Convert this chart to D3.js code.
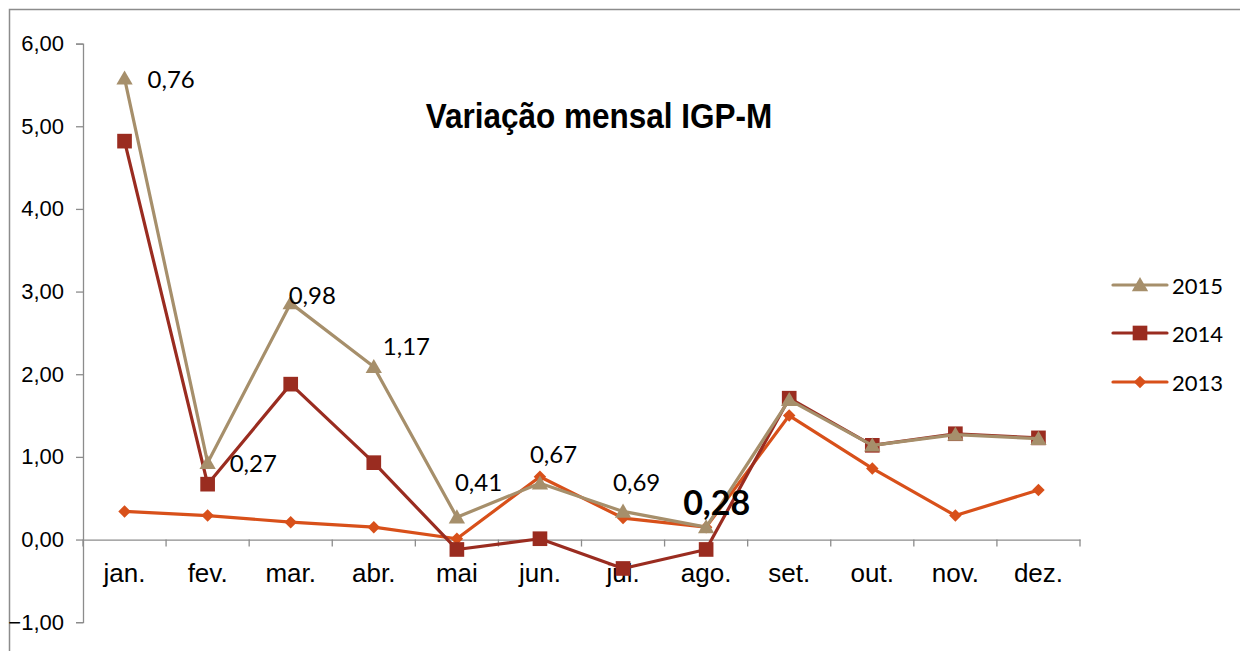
<!DOCTYPE html>
<html>
<head>
<meta charset="utf-8">
<script src="https://cdn.jsdelivr.net/npm/d3@7"></script>
<style>
html,body{margin:0;padding:0;background:#fff;}
svg{display:block;}
</style>
</head>
<body>
<svg id="chart" width="1240" height="651"></svg>
<script>
const months = ["jan.","fev.","mar.","abr.","mai","jun.","jul.","ago.","set.","out.","nov.","dez."];
const s2015 = [5.58, 0.93, 2.86, 2.09, 0.27, 0.68, 0.34, 0.15, 1.69, 1.14, 1.27, 1.22];
const s2014 = [4.82, 0.67, 1.88, 0.93, -0.12, 0.01, -0.35, -0.12, 1.71, 1.14, 1.28, 1.23];
const s2013 = [0.34, 0.29, 0.21, 0.15, 0.01, 0.76, 0.26, 0.15, 1.50, 0.86, 0.29, 0.60];
const yTicks = [-1, 0, 1, 2, 3, 4, 5, 6];
const labelTexts = ["0,76","0,27","0,98","1,17","0,41","0,67","0,69","0,28"];
const seriesNames = ["2015","2014","2013"];

// layout / style (not data)
const labelOffsets = [[23,0],[22,0],[-2,-9],[9,-21],[-2,-36],[-10,-30],[-10,-30],[-23,-26]];
const colors = {"2015":"#A68F6B","2014":"#9A2C20","2013":"#D8501A"};
const ARIAL = "'Liberation Sans', Arial, Helvetica, sans-serif";
const CALIBRI = "Lato, 'Open Sans', sans-serif";

function markerPath(name){
  if (name === "2015") return d3.symbol().type(d3.symbolTriangle).size(115)();
  if (name === "2014") return d3.symbol().type(d3.symbolSquare).size(215)();
  return d3.symbol().type(d3.symbolSquare).size(78)();
}
function markerRot(name){ return name === "2013" ? " rotate(45)" : (name === "2015" ? " translate(0,1.5)" : ""); }

const svg = d3.select("#chart");
svg.append("rect").attr("x",9.5).attr("y",9.5).attr("width",1300).attr("height",700)
  .attr("fill","#fff").attr("stroke","#8c8c8c").attr("stroke-width",1.5);

const x = d3.scaleBand().domain(months).range([83,1080]);
const y = d3.scaleLinear().domain([-1,6]).range([622.2,43.6]);
const cx = m => x(m) + x.bandwidth()/2;

// y axis
const yAxis = svg.append("g").attr("transform","translate(83,0)")
  .call(d3.axisLeft(y).tickValues(yTicks).tickSize(7).tickPadding(12)
    .tickFormat(d => d3.format(".2f")(d).replace(".",",")));
yAxis.select(".domain").attr("stroke","#8c8c8c").attr("stroke-width",1.3);
yAxis.selectAll(".tick line").attr("stroke","#8c8c8c").attr("stroke-width",1.3);
yAxis.selectAll(".tick text").attr("font-family",ARIAL)
  .attr("font-size",22).attr("fill","#000");

// x axis at zero
const xAxis = svg.append("g").attr("transform",`translate(0,${y(0)})`)
  .call(d3.axisBottom(x).tickSize(0).tickPadding(42));
xAxis.select(".domain").attr("stroke","#8c8c8c").attr("stroke-width",1.3);
xAxis.selectAll(".tick text").attr("font-family",ARIAL)
  .attr("font-size",26).attr("fill","#000").attr("dy","0");
// category boundary ticks
svg.append("g").selectAll("line").data(d3.range(months.length+1)).join("line")
  .attr("x1",i => 83 + i*x.step()).attr("x2",i => 83 + i*x.step())
  .attr("y1",y(0)).attr("y2",y(0)+7).attr("stroke","#8c8c8c").attr("stroke-width",1.3);

// series
const data = {"2013":s2013,"2014":s2014,"2015":s2015};
const line = d3.line().x((d,i)=>cx(months[i])).y(d=>y(d));
["2013","2014","2015"].forEach(name => {
  const vals = data[name];
  const g = svg.append("g");
  g.append("path").datum(vals).attr("d",line).attr("fill","none")
    .attr("stroke",colors[name]).attr("stroke-width",3.2).attr("stroke-linejoin","round");
  g.selectAll("path.m").data(vals).join("path").attr("class","m")
    .attr("transform",(d,i)=>`translate(${cx(months[i])},${y(d)})` + markerRot(name))
    .attr("d",markerPath(name))
    .attr("fill",colors[name]);
});

// data labels (on 2015 series)
svg.append("g").selectAll("text").data(labelTexts).join("text")
  .attr("x",(t,i)=>cx(months[i]) + labelOffsets[i][0])
  .attr("y",(t,i)=>y(s2015[i]) + labelOffsets[i][1])
  .attr("dominant-baseline","central")
  .attr("font-family",CALIBRI)
  .attr("font-size",(t,i)=> i===7 ? 34 : 24)
  .attr("font-weight",(t,i)=> i===7 ? "bold" : "normal")
  .attr("fill","#000").text(t=>t);

// title
svg.append("text").attr("transform","translate(599,116) scale(0.9,1)")
  .attr("text-anchor","middle").attr("dominant-baseline","central")
  .attr("font-family",ARIAL).attr("font-weight","bold")
  .attr("font-size",35).attr("fill","#000").text("Variação mensal IGP-M");

// legend
const legY = [285,333,382];
const leg = svg.append("g").selectAll("g").data(seriesNames).join("g")
  .attr("transform",(d,i)=>`translate(0,${legY[i]})`);
leg.append("line").attr("x1",1113).attr("x2",1167).attr("y1",0).attr("y2",0)
  .attr("stroke",d=>colors[d]).attr("stroke-width",3.2).attr("stroke-linecap","round");
leg.append("path").attr("transform",d=>"translate(1140,0)" + markerRot(d))
  .attr("d",d=>markerPath(d))
  .attr("fill",d=>colors[d]);
leg.append("text").attr("x",1172).attr("y",0).attr("dominant-baseline","central")
  .attr("font-family",CALIBRI).attr("font-size",22)
  .attr("fill","#000").text(d=>d);
</script>
</body>
</html>
